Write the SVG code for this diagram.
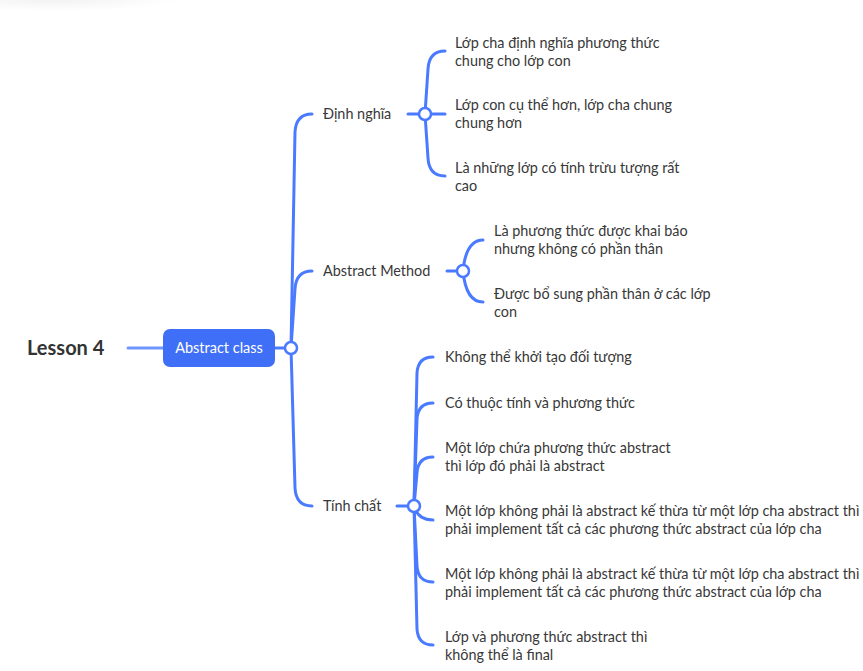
<svg xmlns="http://www.w3.org/2000/svg" width="863" height="671" viewBox="0 0 863 671">
<defs>
<radialGradient id="sh" cx="0.3" cy="0" r="0.7">
<stop offset="0" stop-color="#000" stop-opacity="0.05"/>
<stop offset="1" stop-color="#000" stop-opacity="0"/>
</radialGradient>
<style>
.t{font-family:Lato,"Noto Sans",sans-serif;font-size:14.4px;fill:#383838}
.c{fill:none;stroke:#4a7aff;stroke-width:3;stroke-linecap:round}
.k{fill:#fff;stroke:#4a7aff;stroke-width:2.5}
</style>
</defs>
<rect width="863" height="671" fill="#fff"/>
<rect x="0" y="0" width="180" height="16" fill="url(#sh)"/>
<g id="connectors">
<line x1="128" y1="348" x2="163" y2="348" stroke="#7196ff" stroke-width="3" stroke-linecap="round"/>
<line x1="275" y1="348" x2="286" y2="348" class="c"/>
<path class="c" d="M291 348 L295 132 Q296 114 312 114"/>
<path class="c" d="M291 348 L295 289 Q296 271 312 271"/>
<path class="c" d="M291 348 L295 488 Q296 506 312 506"/>
<line x1="408" y1="114" x2="419" y2="114" class="c"/>
<path class="c" d="M425 114 L428 69 Q429 51 445 51"/>
<line x1="425" y1="114" x2="445" y2="114" class="c"/>
<path class="c" d="M425 114 L428 158 Q429 176 445 176"/>
<line x1="447" y1="271" x2="457" y2="271" class="c"/>
<path class="c" d="M463 271 Q466 240 483 240"/>
<path class="c" d="M463 271 Q466 302 483 302"/>
<line x1="397" y1="506" x2="408" y2="506" class="c"/>
<path class="c" d="M414 506 L417 373 Q418 357 433 357"/>
<path class="c" d="M414 506 L417 419 Q418 403 433 403"/>
<path class="c" d="M414 506 L417 473 Q418 457 433 457"/>
<path class="c" d="M414 506 Q418 520 433 520"/>
<path class="c" d="M414 506 L417 566 Q418 582 433 582"/>
<path class="c" d="M414 506 L417 629 Q418 645 433 645"/>
<circle cx="291" cy="348" r="6" class="k"/>
<circle cx="425" cy="114" r="6" class="k"/>
<circle cx="463" cy="271" r="6" class="k"/>
<circle cx="414" cy="506" r="6" class="k"/>
</g>
<g id="lesson4"><text x="27" y="355" font-family="Lato,'Noto Sans',sans-serif" font-size="20" font-weight="bold" fill="#333">Lesson 4</text></g>
<g id="abstract-class">
<rect x="163" y="329" width="112" height="38" rx="7" fill="#3f6ff6"/>
<text x="219" y="353" text-anchor="middle" font-family="Lato,'Noto Sans',sans-serif" font-size="14.5" fill="#fff">Abstract class</text>
</g>
<g id="dinh-nghia"><text class="t" x="323" y="119">Định nghĩa</text></g>
<g id="abstract-method"><text class="t" x="323" y="276">Abstract Method</text></g>
<g id="tinh-chat"><text class="t" x="323" y="511">Tính chất</text></g>
<g id="dn1"><text class="t" x="455" y="48">Lớp cha định nghĩa phương thức</text><text class="t" x="455" y="66">chung cho lớp con</text></g>
<g id="dn2"><text class="t" x="455" y="110">Lớp con cụ thể hơn, lớp cha chung</text><text class="t" x="455" y="128">chung hơn</text></g>
<g id="dn3"><text class="t" x="455" y="173">Là những lớp có tính trừu tượng rất</text><text class="t" x="455" y="191">cao</text></g>
<g id="am1"><text class="t" x="494" y="236">Là phương thức được khai báo</text><text class="t" x="494" y="254">nhưng không có phần thân</text></g>
<g id="am2"><text class="t" x="494" y="299">Được bổ sung phần thân ở các lớp</text><text class="t" x="494" y="317">con</text></g>
<g id="tc1"><text class="t" x="445" y="362">Không thể khởi tạo đối tượng</text></g>
<g id="tc2"><text class="t" x="445" y="408">Có thuộc tính và phương thức</text></g>
<g id="tc3"><text class="t" x="445" y="453">Một lớp chứa phương thức abstract</text><text class="t" x="445" y="471">thì lớp đó phải là abstract</text></g>
<g id="tc4"><text class="t" x="445" y="516">Một lớp không phải là abstract kế thừa từ một lớp cha abstract thì</text><text class="t" x="445" y="534">phải implement tất cả các phương thức abstract của lớp cha</text></g>
<g id="tc5"><text class="t" x="445" y="579">Một lớp không phải là abstract kế thừa từ một lớp cha abstract thì</text><text class="t" x="445" y="597">phải implement tất cả các phương thức abstract của lớp cha</text></g>
<g id="tc6"><text class="t" x="445" y="642">Lớp và phương thức abstract thì</text><text class="t" x="445" y="660">không thể là final</text></g>
</svg>
